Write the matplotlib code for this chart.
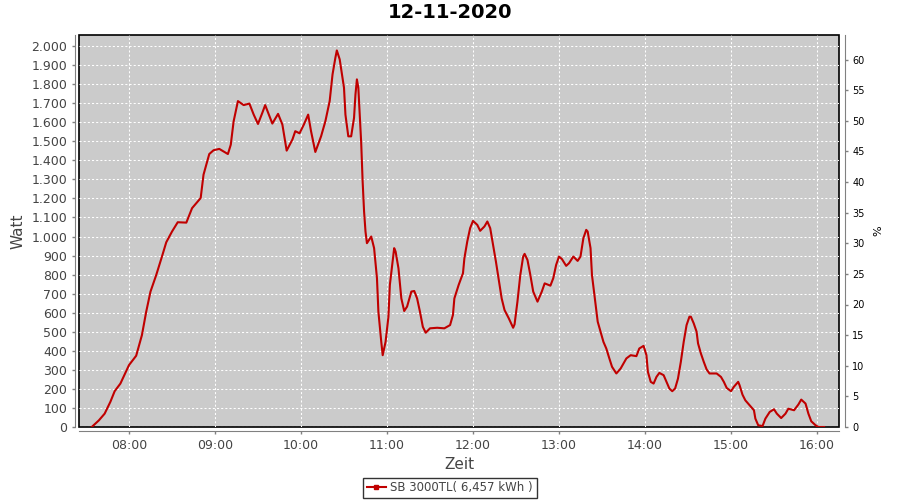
import matplotlib
matplotlib.use("Agg")
import numpy as np
from matplotlib import pyplot as plt
from matplotlib.lines import Line2D

# readings of the SB 3000TL on 12-11-2020 (time of day, Watt)
times = [
    "07:34", "07:39", "07:43", "07:47", "07:50", "07:54", "08:00", "08:05", "08:09", "08:12",
    "08:15", "08:19", "08:23", "08:26", "08:30", "08:34", "08:40", "08:44", "08:50", "08:52",
    "08:56", "08:59", "09:03", "09:09", "09:11", "09:13", "09:16", "09:20", "09:24", "09:27",
    "09:30", "09:33", "09:35", "09:40", "09:44", "09:47", "09:50", "09:54", "09:56", "09:59",
    "10:02", "10:05", "10:07", "10:10", "10:14", "10:17", "10:20", "10:22", "10:24", "10:25",
    "10:27", "10:30", "10:31", "10:33", "10:35", "10:37", "10:38", "10:39", "10:40", "10:42",
    "10:43", "10:44", "10:45", "10:46", "10:49", "10:51", "10:53", "10:54", "10:56", "10:57",
    "10:59", "11:01", "11:02", "11:05", "11:06", "11:08", "11:10", "11:12", "11:14", "11:17",
    "11:19", "11:21", "11:23", "11:25", "11:27", "11:30", "11:35", "11:40", "11:44", "11:46",
    "11:47", "11:50", "11:53", "11:54", "11:56", "11:58", "12:00", "12:03", "12:05", "12:08",
    "12:10", "12:12", "12:14", "12:16", "12:18", "12:20", "12:22", "12:25", "12:28", "12:29",
    "12:31", "12:33", "12:35", "12:36", "12:38", "12:40", "12:42", "12:45", "12:48", "12:50",
    "12:54", "12:56", "12:58", "13:00", "13:02", "13:05", "13:07", "13:10", "13:13", "13:15",
    "13:17", "13:19", "13:20", "13:22", "13:23", "13:25", "13:27", "13:29", "13:31", "13:33",
    "13:35", "13:37", "13:40", "13:43", "13:47", "13:50", "13:54", "13:56", "13:59", "14:01",
    "14:02", "14:04", "14:06", "14:08", "14:10", "14:13", "14:15", "14:17", "14:19", "14:21",
    "14:23", "14:25", "14:27", "14:29", "14:31", "14:32", "14:34", "14:36", "14:37", "14:39",
    "14:41", "14:43", "14:45", "14:48", "14:50", "14:53", "14:55", "14:57", "15:00", "15:02",
    "15:05", "15:06", "15:08", "15:10", "15:13", "15:16", "15:17", "15:19", "15:22", "15:24",
    "15:27", "15:30", "15:32", "15:35", "15:38", "15:40", "15:44", "15:47", "15:49", "15:52",
    "15:54", "15:56", "15:59", "16:01", "16:05",
]
watt = [
    0, 35, 70, 132, 188, 228, 325, 374, 482, 605,
    711, 798, 895, 970, 1026, 1075, 1073, 1149, 1202, 1325,
    1433, 1453, 1460, 1433, 1482, 1605, 1711, 1690, 1698, 1640,
    1591, 1649, 1690, 1593, 1644, 1588, 1451, 1509, 1553, 1542,
    1588, 1640, 1553, 1444, 1526, 1605, 1711, 1851, 1939, 1977,
    1930, 1781, 1640, 1526, 1526, 1623, 1746, 1825, 1781, 1491,
    1289, 1132, 1026, 965, 1000, 939, 781, 605, 447, 377,
    447, 579, 746, 939, 921, 833, 675, 609, 632, 711,
    714, 675, 605, 526, 495, 518, 521, 518, 535, 588,
    675, 746, 807, 886, 974, 1044, 1082, 1061, 1030, 1053,
    1079, 1044, 956, 868, 772, 675, 614, 570, 521, 539,
    658, 798, 895, 909, 877, 798, 711, 658, 711, 754,
    742, 781, 851, 895, 882, 846, 860, 895, 872, 895,
    991, 1035, 1026, 939, 798, 675, 553, 500, 447, 412,
    363, 316, 281, 307, 360, 377, 372, 412, 426, 377,
    290, 237, 228, 263, 284, 272, 237, 202, 188, 202,
    254, 342, 447, 535, 579, 579, 544, 500, 439, 386,
    342, 302, 281, 281, 281, 263, 237, 205, 188, 211,
    237, 219, 170, 140, 114, 88, 44, 9, 5, 44,
    79, 93, 70, 47, 70, 96, 88, 118, 144, 123,
    70, 30, 9, 0, 0,
]

hour_ticks = [8, 9, 10, 11, 12, 13, 14, 15, 16]
watt_ticks = list(range(0, 2001, 100))
pct_ticks = list(range(0, 61, 5))

title = "12-11-2020"
legend_label = "SB 3000TL( 6,457 kWh )"

hours = np.array([int(t[:2]) + int(t[3:]) / 60 for t in times])

plt.rcParams["font.family"] = ["DejaVu Sans"]

fig = plt.figure(figsize=(9, 5), dpi=100)
ax = fig.add_axes([79 / 900, 1 - 427 / 500, 760 / 900, 392 / 500])
ax.set_facecolor("#cbcbcb")
ax.patch.set_edgecolor("black")
ax.patch.set_linewidth(1.2)

ax.plot(hours, watt, color="#c00000", lw=1.5, zorder=3)

ax.set_xlim(8 - 50 / 86, 16 + 22 / 86)
ax.set_ylim(0, 2058)
ax.set_xticks(hour_ticks)
ax.set_xticklabels([f"{h:02d}:00" for h in hour_ticks])
ax.set_yticks(watt_ticks)
ax.set_yticklabels([f"{w:,}".replace(",", ".") for w in watt_ticks])
ax.grid(True, color="white", ls=(0, (2, 2)), lw=0.75)
ax.set_axisbelow(True)

for side in ["top", "right"]:
    ax.spines[side].set_visible(False)
for side in ["left", "bottom"]:
    ax.spines[side].set_color("#808080")
    ax.spines[side].set_position(("outward", 3))
ax.tick_params(colors="#808080", labelcolor="#444444", labelsize=9, length=2, width=1)

ax.set_xlabel("Zeit", fontsize=11, color="#444444", labelpad=4)
ax.set_ylabel("Watt", fontsize=11, color="#444444", labelpad=4)

ax2 = ax.twinx()
ax2.set_ylim(0, 64)
ax2.set_yticks(pct_ticks)
for side in ["top", "left", "bottom"]:
    ax2.spines[side].set_visible(False)
ax2.spines["right"].set_color("#808080")
ax2.spines["right"].set_position(("outward", 4))
ax2.tick_params(colors="#808080", labelcolor="black", labelsize=7, length=2, width=1)
ax2.set_ylabel("%", fontsize=8, color="black", labelpad=6)

fig.text(0.5, 1 - 13 / 500, title, ha="center", va="center", fontsize=14, fontweight="bold")

handle = Line2D([], [], color="#c00000", lw=1.5, marker="s", markersize=2.5)
leg = fig.legend([handle], [legend_label], loc="center", bbox_to_anchor=(0.5, 1 - 488 / 500),
                 fontsize=8.5, frameon=True, fancybox=False, handlelength=1.6,
                 borderpad=0.3, handletextpad=0.4, borderaxespad=0)
leg.get_frame().set_edgecolor("black")
leg.get_frame().set_linewidth(1)
for txt in leg.get_texts():
    txt.set_color("#444444")

fig.savefig("out.png", dpi=100)
